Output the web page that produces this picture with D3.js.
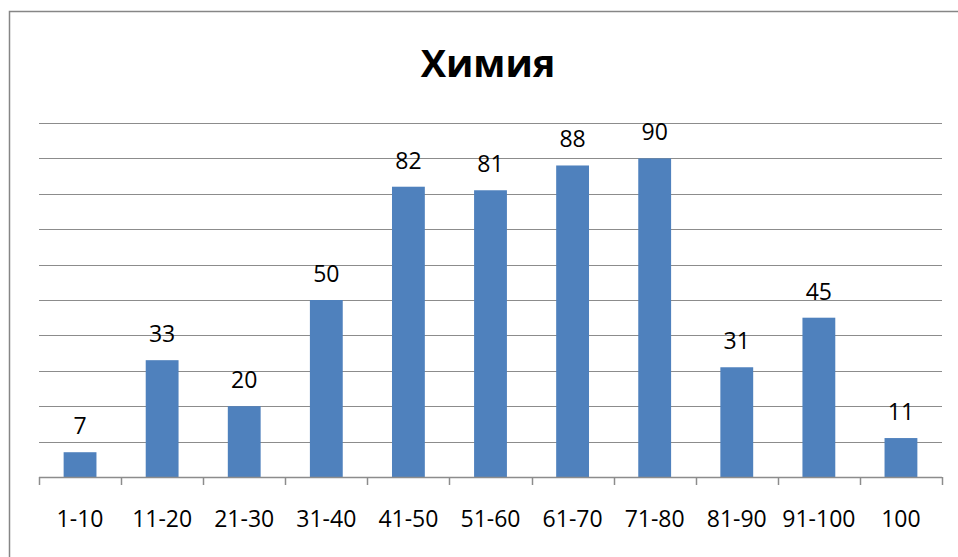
<!doctype html>
<html>
	<head>
		<meta charset="utf-8">
		<title>Химия</title>
		<script src="https://d3js.org/d3.v7.min.js"></script>
		<style>
		html, body { margin: 0; padding: 0; background: #fff; }
		svg { display: block; font-family: "Open Sans", sans-serif; }
		</style>
	</head>
	<body>
		<svg id="chart" width="958" height="557"></svg>
		<script>
		var title = "Химия";
		var categories = ["1-10", "11-20", "21-30", "31-40", "41-50", "51-60", "61-70", "71-80", "81-90", "91-100", "100"];
		var values = [7, 33, 20, 50, 82, 81, 88, 90, 31, 45, 11];
		var gridTicks = [10, 20, 30, 40, 50, 60, 70, 80, 90, 100];

		var svg = d3.select("#chart");
		// plot area (note: "top" is reserved on window, so use plotTop)
		var plotLeft = 39, plotRight = 942, plotTop = 123, plotBottom = 477;

		// chart frame
		svg.append("rect")
			.attr("x", 9.5).attr("y", 11.5)
			.attr("width", 960).attr("height", 560)
			.attr("fill", "none")
			.attr("stroke", "#868686")
			.attr("stroke-width", 1.5);

		svg.append("text")
			.attr("x", 488).attr("y", 77)
			.attr("text-anchor", "middle")
			.attr("font-size", 38)
			.attr("font-weight", "bold")
			.text(title);

		var x = d3.scaleBand().domain(categories).range([plotLeft, plotRight])
			.paddingInner(0.6).paddingOuter(0.3);
		var y = d3.scaleLinear().domain([0, 100]).range([plotBottom, plotTop]);

		svg.append("g").selectAll("line")
			.data(gridTicks)
			.join("line")
			.attr("x1", plotLeft).attr("x2", plotRight)
			.attr("y1", function(d) { return Math.round(y(d)) + 0.5; })
			.attr("y2", function(d) { return Math.round(y(d)) + 0.5; })
			.attr("stroke", "#8c8c8c")
			.attr("stroke-width", 1.2);

		svg.append("g").selectAll("rect")
			.data(values)
			.join("rect")
			.attr("x", function(d, i) { return x(categories[i]); })
			.attr("width", x.bandwidth())
			.attr("y", function(d) { return y(d); })
			.attr("height", function(d) { return y(0) - y(d); })
			.attr("fill", "#4f81bd");

		svg.append("g").selectAll("text")
			.data(values)
			.join("text")
			.attr("x", function(d, i) { return x(categories[i]) + x.bandwidth() / 2; })
			.attr("y", function(d) { return y(d) - 18; })
			.attr("text-anchor", "middle")
			.attr("font-size", 23)
			.text(function(d) { return d; });

		// x axis: baseline, ticks at category boundaries, labels
		var step = x.step();
		var xAxis = svg.append("g");
		xAxis.append("line")
			.attr("x1", plotLeft).attr("x2", plotRight)
			.attr("y1", plotBottom + 0.5).attr("y2", plotBottom + 0.5)
			.attr("stroke", "#8c8c8c")
			.attr("stroke-width", 1.5);
		xAxis.selectAll(".tick")
			.data(d3.range(categories.length + 1))
			.join("line")
			.attr("class", "tick")
			.attr("x1", function(i) { return Math.round(plotLeft + i * step) + 0.5; })
			.attr("x2", function(i) { return Math.round(plotLeft + i * step) + 0.5; })
			.attr("y1", plotBottom).attr("y2", plotBottom + 8)
			.attr("stroke", "#8c8c8c")
			.attr("stroke-width", 1.5);
		xAxis.selectAll(".label")
			.data(categories)
			.join("text")
			.attr("class", "label")
			.attr("x", function(d) { return x(d) + x.bandwidth() / 2; })
			.attr("y", 527)
			.attr("text-anchor", "middle")
			.attr("font-size", 23)
			.text(function(d) { return d; });
		</script>
	</body>
</html>
